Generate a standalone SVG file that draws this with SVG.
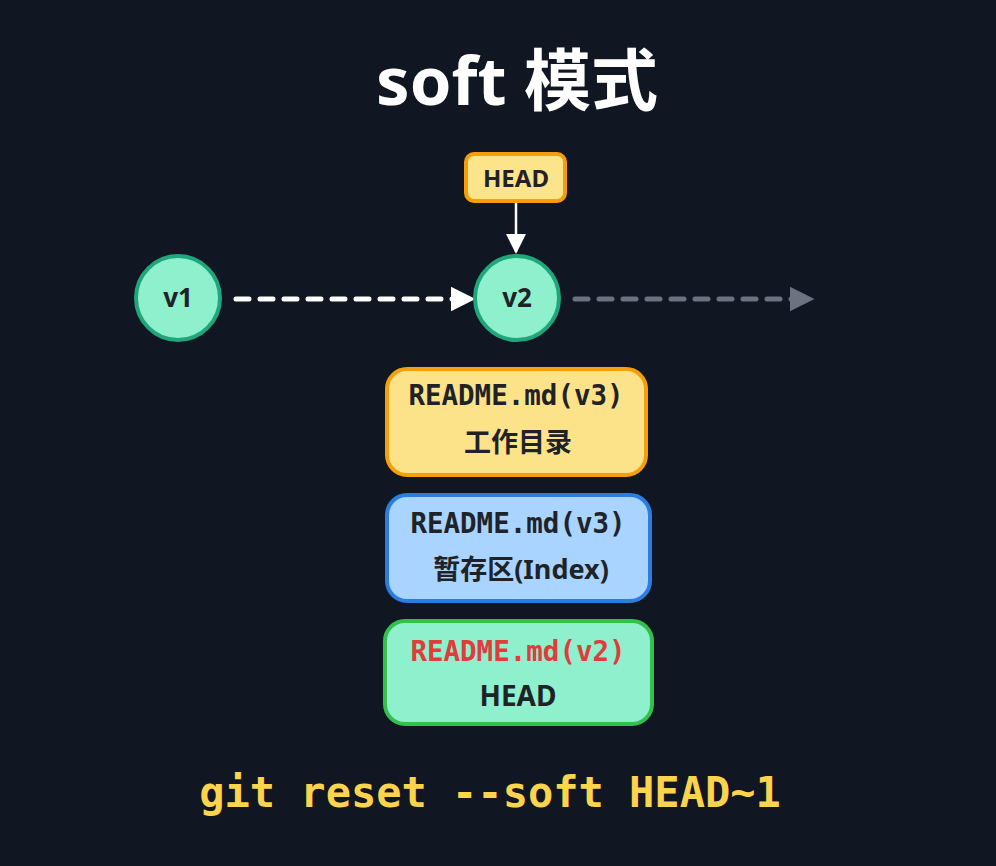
<svg xmlns="http://www.w3.org/2000/svg" width="996" height="866" viewBox="0 0 996 866">
<defs>
<style>
.t{font-family:"Noto Sans","Noto Sans CJK SC",sans-serif;font-weight:bold;text-anchor:middle}
.m{font-family:"DejaVu Sans Mono","Liberation Mono",monospace;font-weight:bold;text-anchor:middle}
.cjk{font-family:"Noto Sans","Noto Sans CJK SC",sans-serif;font-weight:bold;text-anchor:middle}
.circ{fill:#8ef0cc;stroke:#1fa67a;stroke-width:4}
</style>
<marker id="aw" viewBox="0 0 10 10" refX="9" refY="5" markerWidth="5" markerHeight="5" orient="auto" markerUnits="strokeWidth"><path d="M0,0 L10,5 L0,10 z" fill="#ffffff"/></marker>
<marker id="ag" viewBox="0 0 10 10" refX="9" refY="5" markerWidth="5" markerHeight="5" orient="auto" markerUnits="strokeWidth"><path d="M0,0 L10,5 L0,10 z" fill="#6b7280"/></marker>
<marker id="ah" viewBox="0 0 10 10" refX="9" refY="5" markerWidth="9" markerHeight="8" orient="auto" markerUnits="strokeWidth"><path d="M0,0 L10,5 L0,10 z" fill="#ffffff"/></marker>
</defs>
<rect width="996" height="866" fill="#111722"/>
<text class="t" x="517" y="105" font-size="67" fill="#ffffff">soft 模式</text>
<g id="connectors">
<line x1="516" y1="203" x2="516" y2="252" stroke="#ffffff" stroke-width="2.5" marker-end="url(#ah)"/>
<line x1="236" y1="299" x2="473" y2="299" stroke="#ffffff" stroke-width="5" stroke-dasharray="13 11" stroke-linecap="round" marker-end="url(#aw)"/>
<line x1="575" y1="299" x2="812" y2="299" stroke="#6b7280" stroke-width="5" stroke-dasharray="13 11" stroke-linecap="round" marker-end="url(#ag)"/>
</g>
<g id="head-label">
<rect x="466" y="154" width="99" height="47" rx="8" fill="#fce48a" stroke="#f59e0b" stroke-width="4"/>
<text class="t" x="516" y="187" font-size="24" fill="#1f2328">HEAD</text>
</g>
<g id="v1">
<circle class="circ" cx="178" cy="298" r="42"/>
<text class="t" x="178" y="307" font-size="26" fill="#1f2328">v1</text>
</g>
<g id="v2">
<circle class="circ" cx="517" cy="298" r="42"/>
<text class="t" x="517" y="307" font-size="26" fill="#1f2328">v2</text>
</g>
<g id="workdir">
<rect x="387" y="369" width="259" height="106" rx="20" fill="#fce38a" stroke="#f5a00b" stroke-width="4"/>
<text class="m" x="516" y="405" font-size="27.5" fill="#1f2328">README.md(v3)</text>
<text class="cjk" x="518" y="452" font-size="27" fill="#1f2328">工作目录</text>
</g>
<g id="index">
<rect x="387" y="495" width="263" height="106" rx="20" fill="#a8d4ff" stroke="#2b7de0" stroke-width="4"/>
<text class="m" x="518" y="533" font-size="27.5" fill="#1f2328">README.md(v3)</text>
<text class="cjk" x="521" y="579" font-size="27" fill="#1f2328">暂存区(Index)</text>
</g>
<g id="head-tree">
<rect x="385" y="621" width="267" height="103" rx="20" fill="#8ef0cc" stroke="#33c04d" stroke-width="4"/>
<text class="m" x="518" y="661" font-size="27.5" fill="#e03c3c">README.md(v2)</text>
<text class="cjk" x="518" y="706" font-size="28" fill="#1f2328">HEAD</text>
</g>
<text class="m" x="490" y="807" font-size="42" fill="#fcd34d">git reset --soft HEAD~1</text>
</svg>
